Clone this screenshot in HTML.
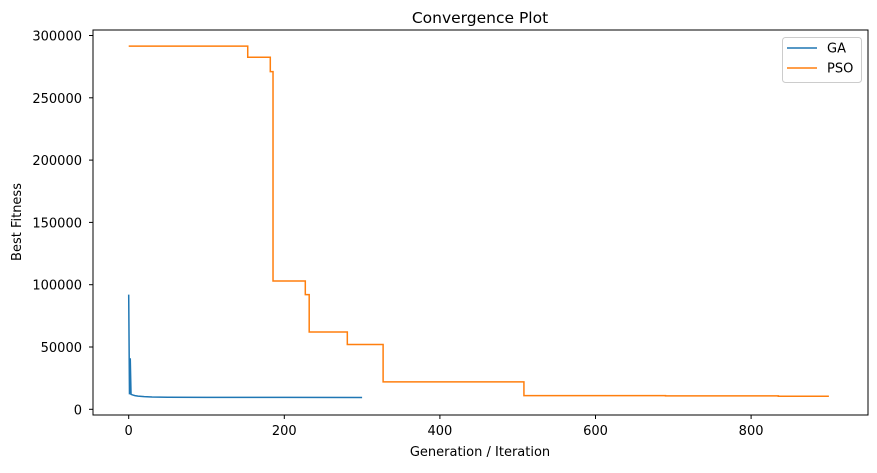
<!DOCTYPE html>
<html><head><meta charset="utf-8"><style>
body{margin:0;background:#fff;}
svg text{font-family:"DejaVu Sans","Liberation Sans",sans-serif;fill:#000;}
</style></head><body>
<svg id="chart" width="877" height="468">
<g id="ticks"></g>
<g id="series"></g>
<rect x="93" y="30" width="775" height="385" fill="none" stroke="#000" stroke-width="1"/>
<text x="480" y="23" font-size="15.5" text-anchor="middle">Convergence Plot</text>
<text x="480" y="456" font-size="13" text-anchor="middle">Generation / Iteration</text>
<text x="21" y="222" font-size="13" text-anchor="middle" transform="rotate(-90 21 222)">Best Fitness</text>
<g>
<rect x="782.5" y="37.5" width="79" height="45" rx="3" fill="#fff" stroke="#ccc"/>
<line x1="787" y1="48" x2="817" y2="48" stroke="#1f77b4" stroke-width="1.5"/>
<text x="827" y="52.5" font-size="13">GA</text>
<line x1="787" y1="68" x2="817" y2="68" stroke="#ff7f0e" stroke-width="1.5"/>
<text x="827" y="72.5" font-size="13">PSO</text>
</g>
</svg>
<script>
const xTicks=[0,200,400,600,800];
const yTicks=[0,50000,100000,150000,200000,250000,300000];
const gaIter=[0,1,2,3,5,8,12,20,30,50,100,200,300];
const gaVals=[92000,12000,41000,12000,11500,11000,10600,10200,9900,9700,9600,9550,9500];
const psoIter=[0,153,182,185.5,227,232,281,327,508,690,835,900];
const psoVals=[291500,282500,271000,103000,92000,62000,52000,22000,11000,10800,10500,10500];
const sx=v=>128.7+v*0.778;
const sy=v=>409.3-v*(62.3/50000);
const NS='http://www.w3.org/2000/svg';
const tg=document.getElementById('ticks');
function mk(t,a,p){const e=document.createElementNS(NS,t);for(const k in a)e.setAttribute(k,a[k]);p.appendChild(e);return e;}
xTicks.forEach(v=>{
 const l=mk('line',{x1:sx(v),x2:sx(v),y1:415,y2:419,stroke:'#000'},tg);
 
 
 const t=mk('text',{x:sx(v),y:435,'font-size':13,'text-anchor':'middle'},tg);t.textContent=v;
 
 
});
yTicks.forEach(v=>{
 const l=mk('line',{x1:89,x2:93,y1:sy(v),y2:sy(v),stroke:'#000'},tg);
 
 
 const t=mk('text',{x:82,y:sy(v)+5,'font-size':13,'text-anchor':'end'},tg);t.textContent=v;
 
 
});
const sg=document.getElementById('series');
let d='';gaIter.forEach((x,i)=>{d+=(i?'L':'M')+sx(x)+','+sy(gaVals[i]);});
const ga=mk('path',{d:d,fill:'none',stroke:'#1f77b4','stroke-width':1.5},sg);


let p='';psoIter.forEach((x,i)=>{if(i===0)p+='M'+sx(x)+','+sy(psoVals[i]);else p+='L'+sx(x)+','+sy(psoVals[i-1])+'L'+sx(x)+','+sy(psoVals[i]);});
const pso=mk('path',{d:p,fill:'none',stroke:'#ff7f0e','stroke-width':1.5},sg);


</script>
</body></html>
